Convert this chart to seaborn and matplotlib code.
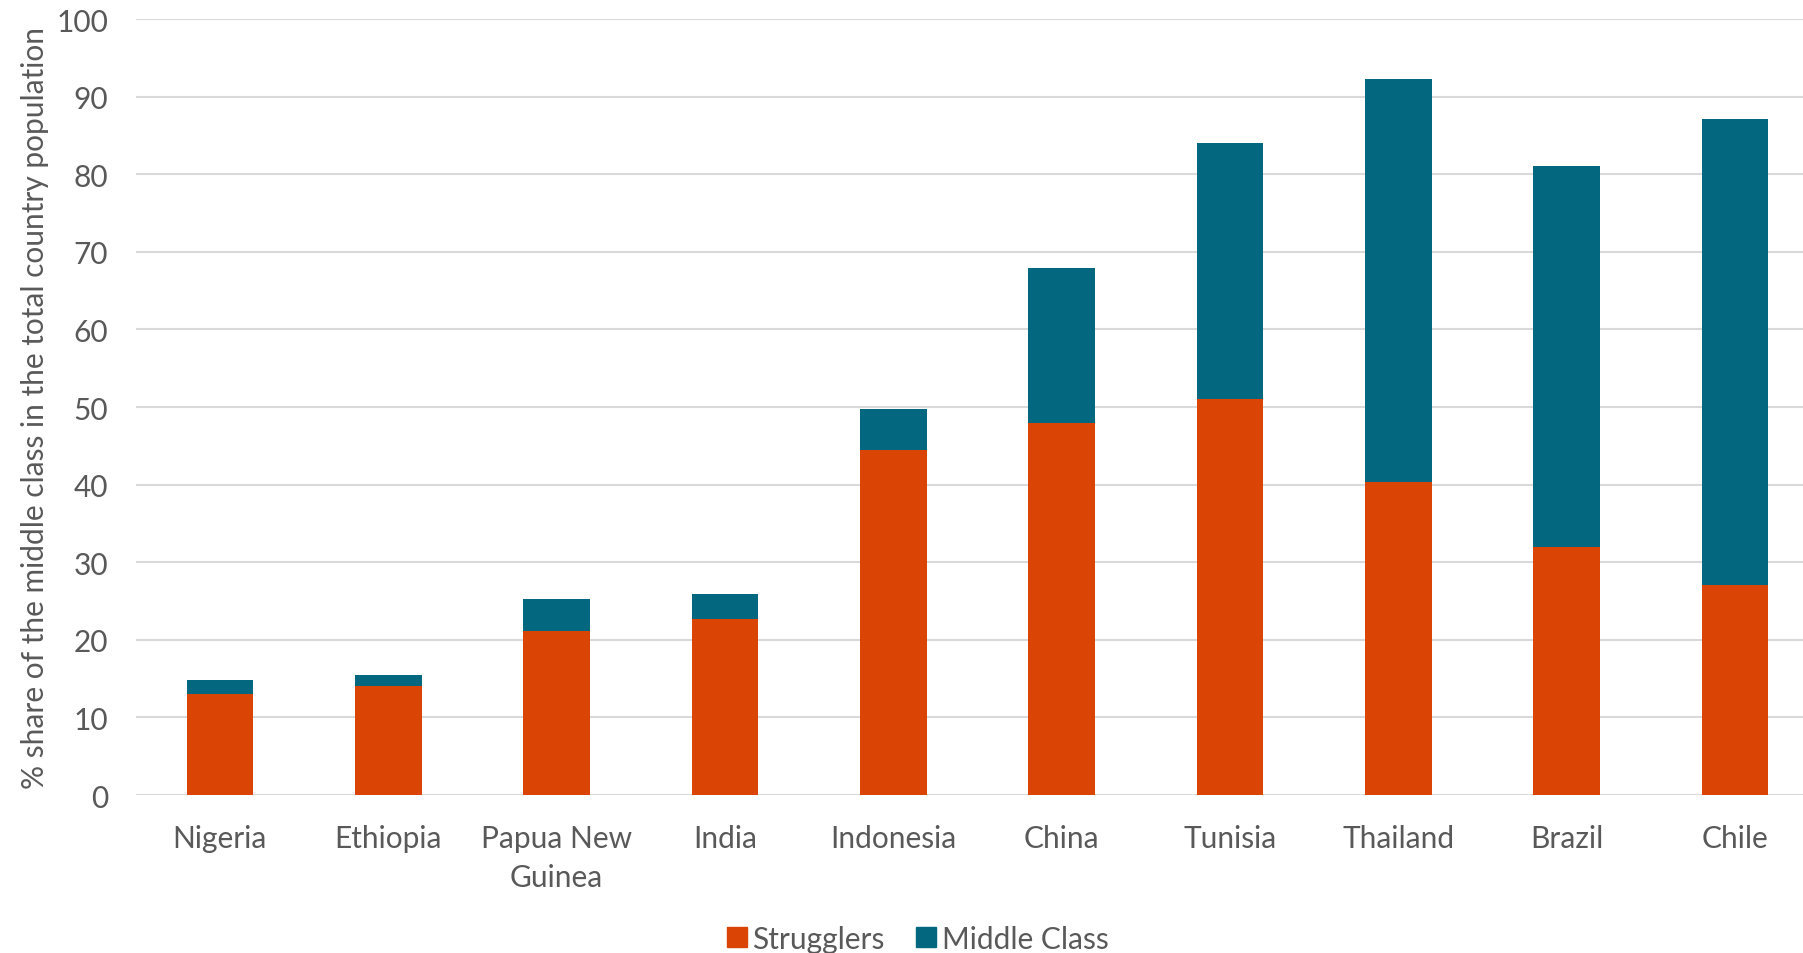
import numpy as np
import pandas as pd
import matplotlib
matplotlib.use("Agg")
import matplotlib.pyplot as plt
import seaborn as sns
from matplotlib.patches import Patch

countries = ["Nigeria", "Ethiopia", "Papua New\nGuinea", "India", "Indonesia",
             "China", "Tunisia", "Thailand", "Brazil", "Chile"]
strugglers = [13.0, 14.0, 21.2, 22.7, 44.4, 48.0, 51.0, 40.4, 32.0, 27.1]
middle_class = [1.8, 1.5, 4.0, 3.2, 5.4, 19.9, 33.0, 51.9, 49.0, 60.0]
yticks = [0, 10, 20, 30, 40, 50, 60, 70, 80, 90, 100]

c_str = "#DA4505"
c_mid = "#02677F"
txt = "#595959"
grid = "#D9D9D9"
fs = 21.5

sns.set_theme(style="white")
plt.rcParams["font.family"] = ["Lato", "DejaVu Sans"]

df = pd.DataFrame({"country": countries,
                   "Strugglers": strugglers,
                   "Middle Class": middle_class})
df["total"] = df["Strugglers"] + df["Middle Class"]

fig = plt.figure(figsize=(18.03, 9.54), dpi=100)
ax = fig.add_axes([0.0753, 0.1656, 0.9336, 0.8134])

for y in yticks:
    ax.axhline(y, color=grid, lw=1.5, zorder=0)

sns.barplot(data=df, x="country", y="total", color=c_mid, width=0.396,
            saturation=1, ax=ax, zorder=2, edgecolor="none")
sns.barplot(data=df, x="country", y="Strugglers", color=c_str, width=0.396,
            saturation=1, ax=ax, zorder=3, edgecolor="none")

ax.set_ylim(0, 100)
ax.set_xlim(-0.5, len(countries) - 0.5)
ax.set_yticks(yticks)
ax.set_yticklabels([str(v) for v in yticks], fontsize=fs, color=txt)
ax.tick_params(axis="x", labelsize=fs, colors=txt, length=0, pad=21)
ax.tick_params(axis="y", length=0, pad=20)
for lab in ax.get_xticklabels():
    lab.set_linespacing(1.45)
for s in ax.spines.values():
    s.set_visible(False)
ax.set_xlabel("")
ax.set_ylabel("% share of the middle class in the total country population",
              fontsize=fs, color=txt, labelpad=5)
ax.grid(False)

handles = [Patch(color=c_str, label="Strugglers"),
           Patch(color=c_mid, label="Middle Class")]
fig.legend(handles=handles, loc="center", bbox_to_anchor=(0.509, 0.015),
           ncol=2, frameon=False, fontsize=fs, labelcolor=txt,
           handlelength=0.65, handleheight=0.65, handletextpad=0.2,
           columnspacing=1.05)

fig.savefig("out.png", dpi=100)
